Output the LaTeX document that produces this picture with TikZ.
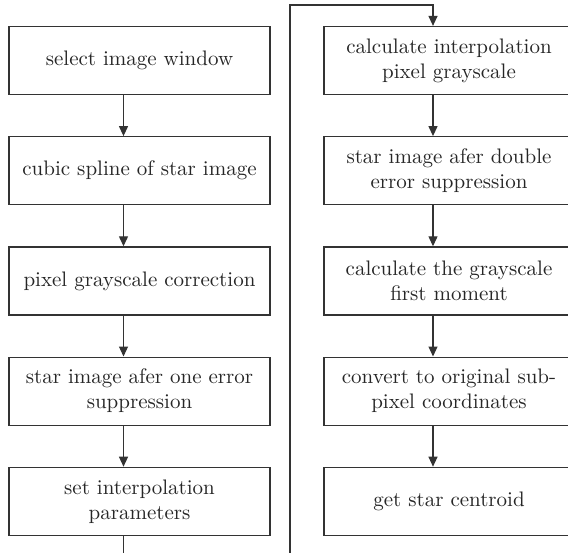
\documentclass[tikz,border=0pt]{standalone}
\usepackage{tikz}
\usetikzlibrary{positioning,arrows.meta}

\begin{document}
\begin{tikzpicture}[
        box/.style={draw=black!80, line width=0.6pt, minimum width=130.5pt, minimum height=34pt,
            align=center, inner sep=2pt, font=\fontsize{10.5}{12.5}\selectfont, text=black!85},
        link/.style={draw=black!80, line width=0.6pt, -{Triangle[length=5pt,width=4.5pt]}},
        node distance=20.5pt]
            \useasboundingbox (0,0) rectangle (284pt,-276pt);
            % left column
            \node[box] (l1) at (69.75pt,-30.25pt) {select image window};
            \node[box, below=of l1] (l2) {cubic spline of star image};
            \node[box, below=of l2] (l3) {pixel grayscale correction};
            \node[box, below=of l3] (l4) {star image afer one error\\suppression};
            \node[box, below=of l4] (l5) {set interpolation\\parameters};
            % right column
            \node[box, minimum width=125pt] (r1) at (224.5pt,-30.25pt) {calculate interpolation\\pixel grayscale};
            \node[box, minimum width=125pt, below=of r1] (r2) {star image afer double\\error suppression};
            \node[box, minimum width=125pt, below=of r2] (r3) {calculate the grayscale\\first moment};
            \node[box, minimum width=125pt, below=of r3] (r4) {convert to original sub-\\pixel coordinates};
            \node[box, minimum width=125pt, below=of r4] (r5) {get star centroid};
            \foreach \a/\b in {l1/l2, l2/l3, l3/l4, l4/l5, r1/r2, r2/r3, r3/r4, r4/r5}
                \draw[link] ([xshift=-8pt]\a.south) -- ([xshift=-8pt]\b.north);
            % loop back to the top of the right column
            \coordinate (loopb) at (145pt,-290pt);
            \coordinate (loopt) at (145pt,-2.5pt);
            \draw[link] ([xshift=-8pt]l5.south) |- (loopb) -- (loopt) -| ([xshift=-8pt]r1.north);
        \end{tikzpicture}
\end{document}
